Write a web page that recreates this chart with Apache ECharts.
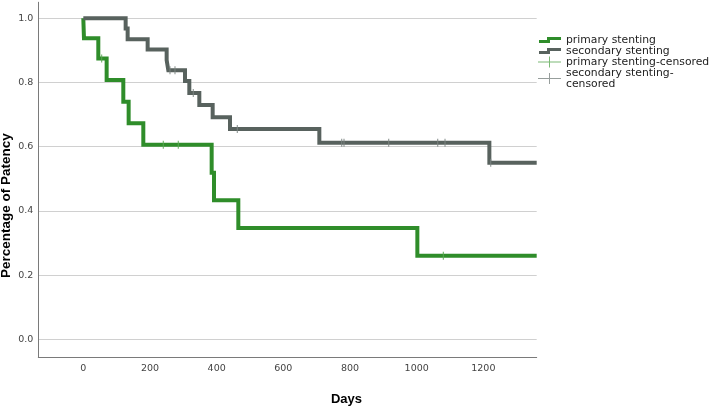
<!DOCTYPE html>
<html>
<head>
<meta charset="utf-8">
<script src="https://cdn.jsdelivr.net/npm/echarts@6/dist/echarts.min.js"></script>
<style>html,body{margin:0;padding:0;background:#fff}#c{width:709px;height:406px}</style>
</head>
<body>
<div id="c"></div>
<script>
// ---- data ----
const primaryTimes = [0, 2, 45, 70, 120, 136, 180, 385, 392, 465, 1002];
const primarySurv  = [1.0, 0.9375, 0.875, 0.808, 0.740, 0.673, 0.606, 0.519, 0.433, 0.347, 0.260];
const primaryCensored = [55, 240, 285, 1080];
const secondaryTimes = [0, 127, 133, 193, 250, 255, 305, 318, 348, 388, 440, 708, 1218];
const secondarySurv  = [1.0, 0.968, 0.935, 0.903, 0.870, 0.838, 0.805, 0.767, 0.730, 0.692, 0.655, 0.612, 0.550];
const secondaryCensored = [260, 275, 330, 462, 775, 782, 916, 1063, 1085, 1222];
const followUpEnd = 1360;
const xTicks = [0, 200, 400, 600, 800, 1000, 1200];
const yTicks = [0.0, 0.2, 0.4, 0.6, 0.8, 1.0];

function stepData(times, surv) {
  const d = times.map((t, i) => [t, surv[i]]);
  d.push([followUpEnd, surv[surv.length - 1]]);
  return d;
}
function survAt(times, surv, t) {
  let v = surv[0];
  for (let i = 0; i < times.length; i++) if (times[i] <= t) v = surv[i];
  return v;
}
function censorData(ct, times, surv) {
  return ct.map(t => [t, survAt(times, surv, t)]);
}

const GREEN = '#2f8d2a';
const GRAY = '#58625e';
const font = 'DejaVu Sans';
const stepIcon = 'path://M0,6 L0,3 L8,3 L8,0 L22,0 L22,3 L11,3 L11,6 Z';
const plusIcon = 'path://M0,5 L23,5 L23,6 L0,6 Z M11,0 L12,0 L12,11 L11,11 Z';

const chart = echarts.init(document.getElementById('c'), null, {renderer: 'canvas'});
chart.setOption({
  animation: false,
  backgroundColor: '#fff',
  grid: {left: 38.3, right: 172.3, top: 2.25, bottom: 49, containLabel: false, outerBoundsMode: 'none'},
  legend: [{
    orient: 'vertical', left: 534, top: 29.5, itemGap: 0,
    itemWidth: 22, itemHeight: 6,
    textStyle: {fontFamily: font, fontSize: 10.8, color: '#222', lineHeight: 11},
    data: [
      {name: 'primary stenting', icon: stepIcon},
      {name: 'secondary stenting', icon: stepIcon}
    ]
  }, {
    orient: 'vertical', left: 533, top: 51.5, itemGap: 0,
    itemWidth: 23, itemHeight: 11,
    textStyle: {fontFamily: font, fontSize: 10.8, color: '#222', lineHeight: 11},
    formatter: function (n) { return n === 'secondary stenting-censored' ? 'secondary stenting-\ncensored' : n; },
    data: [
      {name: 'primary stenting-censored', icon: plusIcon},
      {name: 'secondary stenting-censored', icon: plusIcon}
    ]
  }],
  xAxis: {
    type: 'value', min: -135, max: followUpEnd,
    name: 'Days', nameLocation: 'middle', nameGap: 36, nameMoveOverlap: false,
    nameTextStyle: {fontFamily: 'Liberation Sans', fontWeight: 'bold', fontSize: 13, color: '#000', padding: [0, 0, 0, 118]},
    axisLine: {show: true, onZero: false, lineStyle: {color: '#7a7a7a', width: 1}},
    axisTick: {show: false, customValues: xTicks},
    axisLabel: {customValues: xTicks, fontFamily: font, fontSize: 9.5, color: '#444', margin: 7,
      formatter: v => String(v)},
    splitLine: {show: false}
  },
  yAxis: {
    type: 'value', min: -0.055, max: 1.05,
    name: 'Percentage of Patency', nameLocation: 'middle', nameGap: 25, nameRotate: 90, nameMoveOverlap: false,
    nameTextStyle: {fontFamily: 'Liberation Sans', fontWeight: 'bold', fontSize: 13.5, color: '#000', padding: [0, 52, 0, 0]},
    axisLine: {show: true, onZero: false, lineStyle: {color: '#7a7a7a', width: 1}},
    axisTick: {show: false, customValues: yTicks},
    axisLabel: {customValues: yTicks, fontFamily: font, fontSize: 9.5, color: '#444', margin: 5,
      formatter: v => v.toFixed(1)},
    splitLine: {show: true, lineStyle: {color: '#d0d0d0', width: 1}}
  },
  series: [
    {
      name: 'primary stenting', type: 'line', step: 'end', symbol: 'none',
      color: GREEN,
      lineStyle: {color: GREEN, width: 4, join: 'miter', cap: 'butt'},
      data: stepData(primaryTimes, primarySurv), z: 3
    },
    {
      name: 'secondary stenting', type: 'line', step: 'end', symbol: 'none',
      color: GRAY,
      lineStyle: {color: GRAY, width: 4, join: 'miter', cap: 'butt'},
      data: stepData(secondaryTimes, secondarySurv), z: 4
    },
    {
      name: 'primary stenting-censored', type: 'scatter',
      symbol: 'rect', symbolSize: [1.2, 8],
      itemStyle: {color: '#5aa852'},
      data: censorData(primaryCensored, primaryTimes, primarySurv), z: 5
    },
    {
      name: 'secondary stenting-censored', type: 'scatter',
      symbol: 'rect', symbolSize: [1.2, 8],
      itemStyle: {color: '#7d8683'},
      data: censorData(secondaryCensored, secondaryTimes, secondarySurv), z: 6
    }
  ]
});
</script>
</body>
</html>
